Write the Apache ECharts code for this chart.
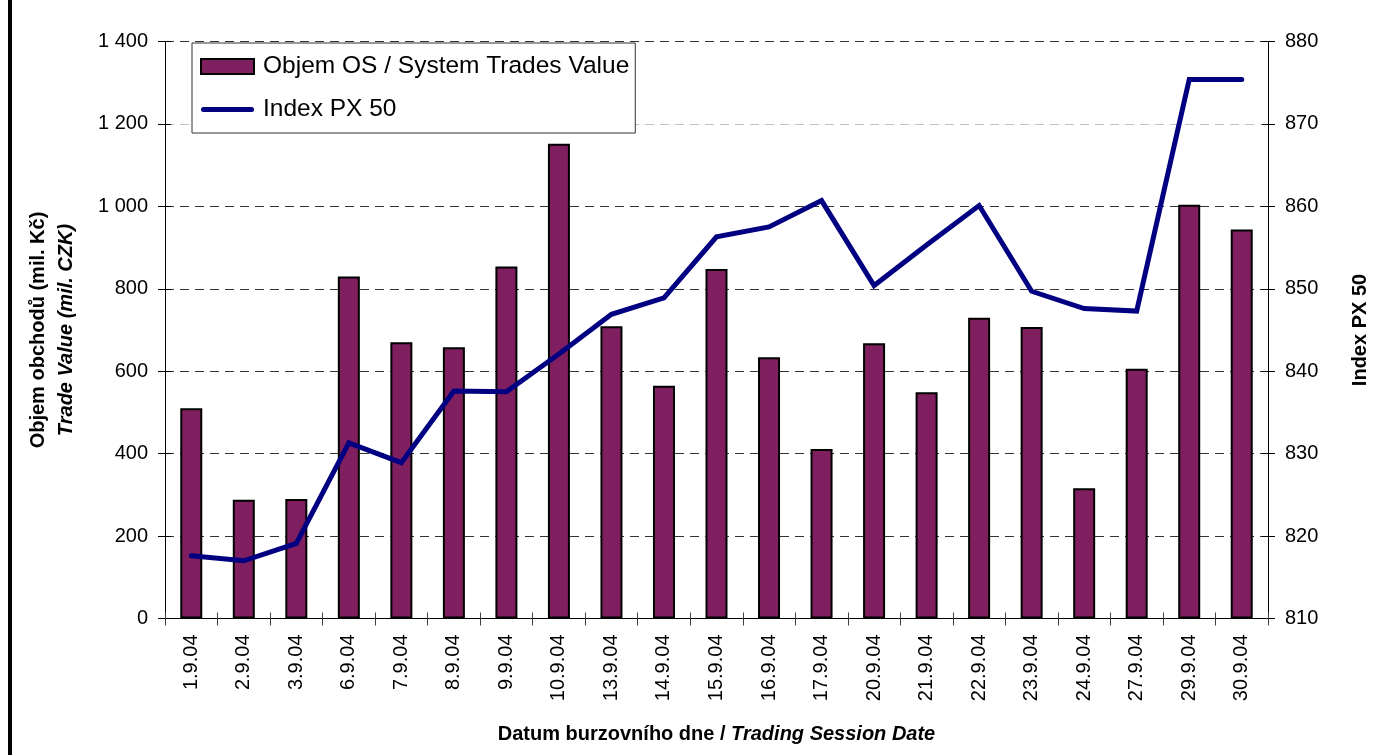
<!DOCTYPE html>
<html>
<head>
<meta charset="utf-8">
<script src="https://cdn.jsdelivr.net/npm/echarts@6/dist/echarts.min.js"></script>
<style>
html,body{margin:0;padding:0;background:#fff;}
#chart{width:1391px;height:755px;}
</style>
</head>
<body>
<div id="chart"></div>
<script>
const categories = ['1.9.04','2.9.04','3.9.04','6.9.04','7.9.04','8.9.04','9.9.04','10.9.04','13.9.04','14.9.04','15.9.04','16.9.04','17.9.04','20.9.04','21.9.04','22.9.04','23.9.04','24.9.04','27.9.04','29.9.04','30.9.04'];
const tradeValue = [510,288,290,830,670,658,854,1152,709,565,848,634,411,668,549,730,707,316,606,1004,944];
const px50 = [817.6,817.0,819.1,831.3,828.9,837.6,837.5,842.1,846.9,848.9,856.3,857.5,860.7,850.4,855.3,860.1,849.7,847.6,847.3,875.4,875.4];
const seriesNames = ['Objem OS / System Trades Value','Index PX 50'];

const FONT = 'Arial, "Liberation Sans", sans-serif';
const chart = echarts.init(document.getElementById('chart'), null, {renderer:'canvas'});

const leftAxisBase = {type:'value', min:0, max:1400, interval:200, position:'left'};
const rightAxisBase = {type:'value', min:810, max:880, interval:10, position:'right'};

const option = {
  backgroundColor:'#fff',
  animation:false,
  textStyle:{fontFamily:FONT},
  grid:{left:165, right:123, top:41.5, bottom:136.5, containLabel:false},
  graphic:[{type:'rect', shape:{x:8, y:0, width:4, height:755}, style:{fill:'#000'}, z:100}],
  legend:{
    orient:'vertical', left:192, top:43,
    padding:[11,6,11,8], itemGap:18,
    itemWidth:53, itemHeight:15,
    backgroundColor:'#fff', borderColor:'#333', borderWidth:1,
    textStyle:{fontSize:24.5, color:'#000', fontFamily:FONT, padding:[0,0,0,4]},
    data:[
      {name:seriesNames[0], icon:'rect'},
      {name:seriesNames[1], icon:'path://M2.5,0 H50.5 A2.5,2.5 0 0 1 50.5,5 H2.5 A2.5,2.5 0 0 1 2.5,0 Z',
       itemStyle:{color:'#000080', borderWidth:0}}
    ]
  },
  xAxis:[{
    type:'category', data:categories, boundaryGap:true,
    axisLine:{lineStyle:{color:'#000', width:1}},
    axisTick:{show:true, length:7, lineStyle:{color:'#404040'}},
    axisLabel:{rotate:90, fontSize:20, color:'#000', margin:16, fontFamily:FONT},
    name:'{b|Datum burzovního dne / }{bi|Trading Session Date}',
    nameLocation:'middle', nameGap:106,
    nameTextStyle:{rich:{b:{fontSize:20, fontWeight:'bold', color:'#000', fontFamily:FONT}, bi:{fontSize:20, fontWeight:'bold', fontStyle:'italic', color:'#000', fontFamily:FONT}}}
  },{
    type:'category', data:categories, boundaryGap:true, position:'bottom',
    axisLine:{show:false},
    axisTick:{show:true, inside:true, length:6, lineStyle:{color:'#404040'}},
    axisLabel:{show:false}, splitLine:{show:false}
  }],
  yAxis:[Object.assign({}, leftAxisBase, {
    axisLine:{show:true, lineStyle:{color:'#000', width:1}},
    axisTick:{show:true, length:7, lineStyle:{color:'#000'}},
    axisLabel:{fontSize:20, color:'#000', margin:17, fontFamily:FONT,
      formatter:v => String(v).replace(/\B(?=(\d{3})+(?!\d))/g,' ')},
    splitLine:{show:true, lineStyle:{type:[9,6], width:1,
      color:['#333','#333','#333','#333','#333','#333','#c0c0c0','#333']}},
    name:'{a|Objem obchodů (mil. Kč)}\n{b|Trade Value (mil. CZK)}',
    nameLocation:'middle', nameGap:85, nameRotate:90,
    nameTextStyle:{rich:{
      a:{fontSize:20, fontWeight:'bold', color:'#000', fontFamily:FONT, lineHeight:28},
      b:{fontSize:20, fontWeight:'bold', fontStyle:'italic', color:'#000', fontFamily:FONT, lineHeight:28}}}
  }), Object.assign({}, rightAxisBase, {
    axisLine:{show:true, lineStyle:{color:'#000', width:1}},
    axisTick:{show:true, length:7, lineStyle:{color:'#000'}},
    axisLabel:{fontSize:20, color:'#000', margin:17, fontFamily:FONT},
    splitLine:{show:false},
    name:'Index PX 50', nameLocation:'middle', nameGap:82, nameRotate:90,
    nameTextStyle:{fontSize:20, fontWeight:'bold', color:'#000', fontFamily:FONT}
  }), Object.assign({}, leftAxisBase, {
    axisLine:{show:false}, axisLabel:{show:false}, splitLine:{show:false},
    axisTick:{show:true, inside:true, length:6, lineStyle:{color:'#000'}}
  }), Object.assign({}, rightAxisBase, {
    axisLine:{show:false}, axisLabel:{show:false}, splitLine:{show:false},
    axisTick:{show:true, inside:true, length:6, lineStyle:{color:'#000'}}
  })],
  series:[{
    name:seriesNames[0], type:'bar', xAxisIndex:0, yAxisIndex:0,
    data:tradeValue, barWidth:22,
    itemStyle:{color:'#7f1f5f', borderColor:'#000', borderWidth:2}
  },{
    name:seriesNames[1], type:'line', xAxisIndex:0, yAxisIndex:1,
    data:px50, symbol:'none', showSymbol:false,
    lineStyle:{color:'#000080', width:5, cap:'round', join:'miter'},
    itemStyle:{color:'#000080'}
  }]
};
chart.setOption(option);
</script>
</body>
</html>
